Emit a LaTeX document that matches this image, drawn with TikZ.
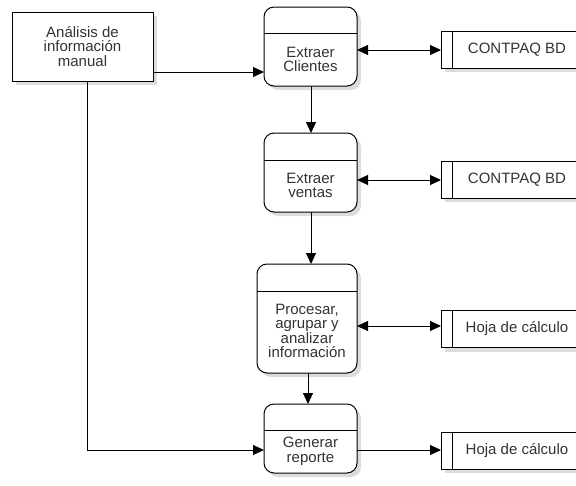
\documentclass[tikz,border=0pt]{standalone}
\usepackage{fontspec}
\setmainfont{Liberation Sans}
\usetikzlibrary{arrows.meta,calc,shadows}
\definecolor{txt}{HTML}{333333}
\definecolor{shd}{HTML}{DCDCDC}
\begin{document}
\begin{tikzpicture}[x=1pt,y=-1pt,
  every node/.style={inner sep=0pt,outer sep=0pt},
  boxshadow/.style={drop shadow={shadow xshift=4pt,shadow yshift=-4pt,fill=shd,opacity=1}},
  extbox/.style={draw,line width=1pt,fill=white,boxshadow,minimum width=141pt,minimum height=69pt},
  procbox/.style={draw,line width=1pt,fill=white,rounded corners=10pt,boxshadow},
  storebox/.style={draw,line width=1pt,fill=white,boxshadow,minimum width=149pt,minimum height=37pt},
  lbl/.style={text=txt,align=center,font=\fontsize{15}{14.5}\selectfont},
  flow/.style={line width=1pt,-{Triangle[length=11pt,width=10pt]}},
  flow2/.style={line width=1pt,{Triangle[length=11pt,width=10pt]}-{Triangle[length=11pt,width=10pt]}}
]
\clip (0,0) rectangle (576,485);

% external entity
\node[extbox,lbl] (ana) at (82.5,46.5) {Análisis de\\información\\manual};

% processes (header band + body text)
\node[procbox,minimum width=93pt,minimum height=79pt] (cli) at (310.5,46.5) {};
\node[procbox,minimum width=93pt,minimum height=79pt] (ven) at (310.5,172.5) {};
\node[procbox,minimum width=100pt,minimum height=109pt] (pro) at (307,318.5) {};
\node[procbox,minimum width=93pt,minimum height=69pt] (gen) at (310.5,438.5) {};

\foreach \p/\h in {cli/26,ven/27,pro/27,gen/26}{
  \draw[line width=1pt] ($(\p.north west)+(0,\h)$) -- ($(\p.north east)+(0,\h)$);
}

\node[lbl] (tcli) at (310.5,59.5) {Extraer\\Clientes};
\node[lbl] (tven) at (310.5,185.5) {Extraer\\ventas};
\node[lbl] (tpro) at (307,331) {Procesar,\\agrupar y\\analizar\\información};
\node[lbl] (tgen) at (310.5,451.5) {Generar\\reporte};

% data stores
\node[storebox] (db1) at (515.5,49.5) {};
\node[storebox] (db2) at (515.5,179.5) {};
\node[storebox] (hc1) at (515.5,329) {};
\node[storebox] (hc2) at (515.5,450.5) {};
\foreach \s/\t in {db1/CONTPAQ BD,db2/CONTPAQ BD,hc1/Hoja de cálculo,hc2/Hoja de cálculo}{
  \draw[line width=1pt] ($(\s.north west)+(11,0)$) -- ($(\s.south west)+(11,0)$);
  \node[lbl] (\s-t) at ($(\s.center)+(1.5,0)$) {\t};
}

% flows
\draw[flow] (ana.east |- 0,72) -- (cli.west |- 0,72);
\draw[flow2] (cli.east |- 0,50) -- (db1.west |- 0,50);
\draw[flow2] (ven.east |- 0,180) -- (db2.west |- 0,180);
\draw[flow2] (pro.east |- 0,326) -- (hc1.west |- 0,326);
\draw[flow] (gen.east |- 0,450) -- (hc2.west |- 0,450);
\draw[flow] (311,0 |- cli.south) -- (311,0 |- ven.north);
\draw[flow] (311,0 |- ven.south) -- (311,0 |- pro.north);
\draw[flow] (308,0 |- pro.south) -- (308,0 |- gen.north);
\draw[flow] (87,0 |- ana.south) -- (87,450) -- (gen.west |- 0,450);
\end{tikzpicture}
\end{document}
